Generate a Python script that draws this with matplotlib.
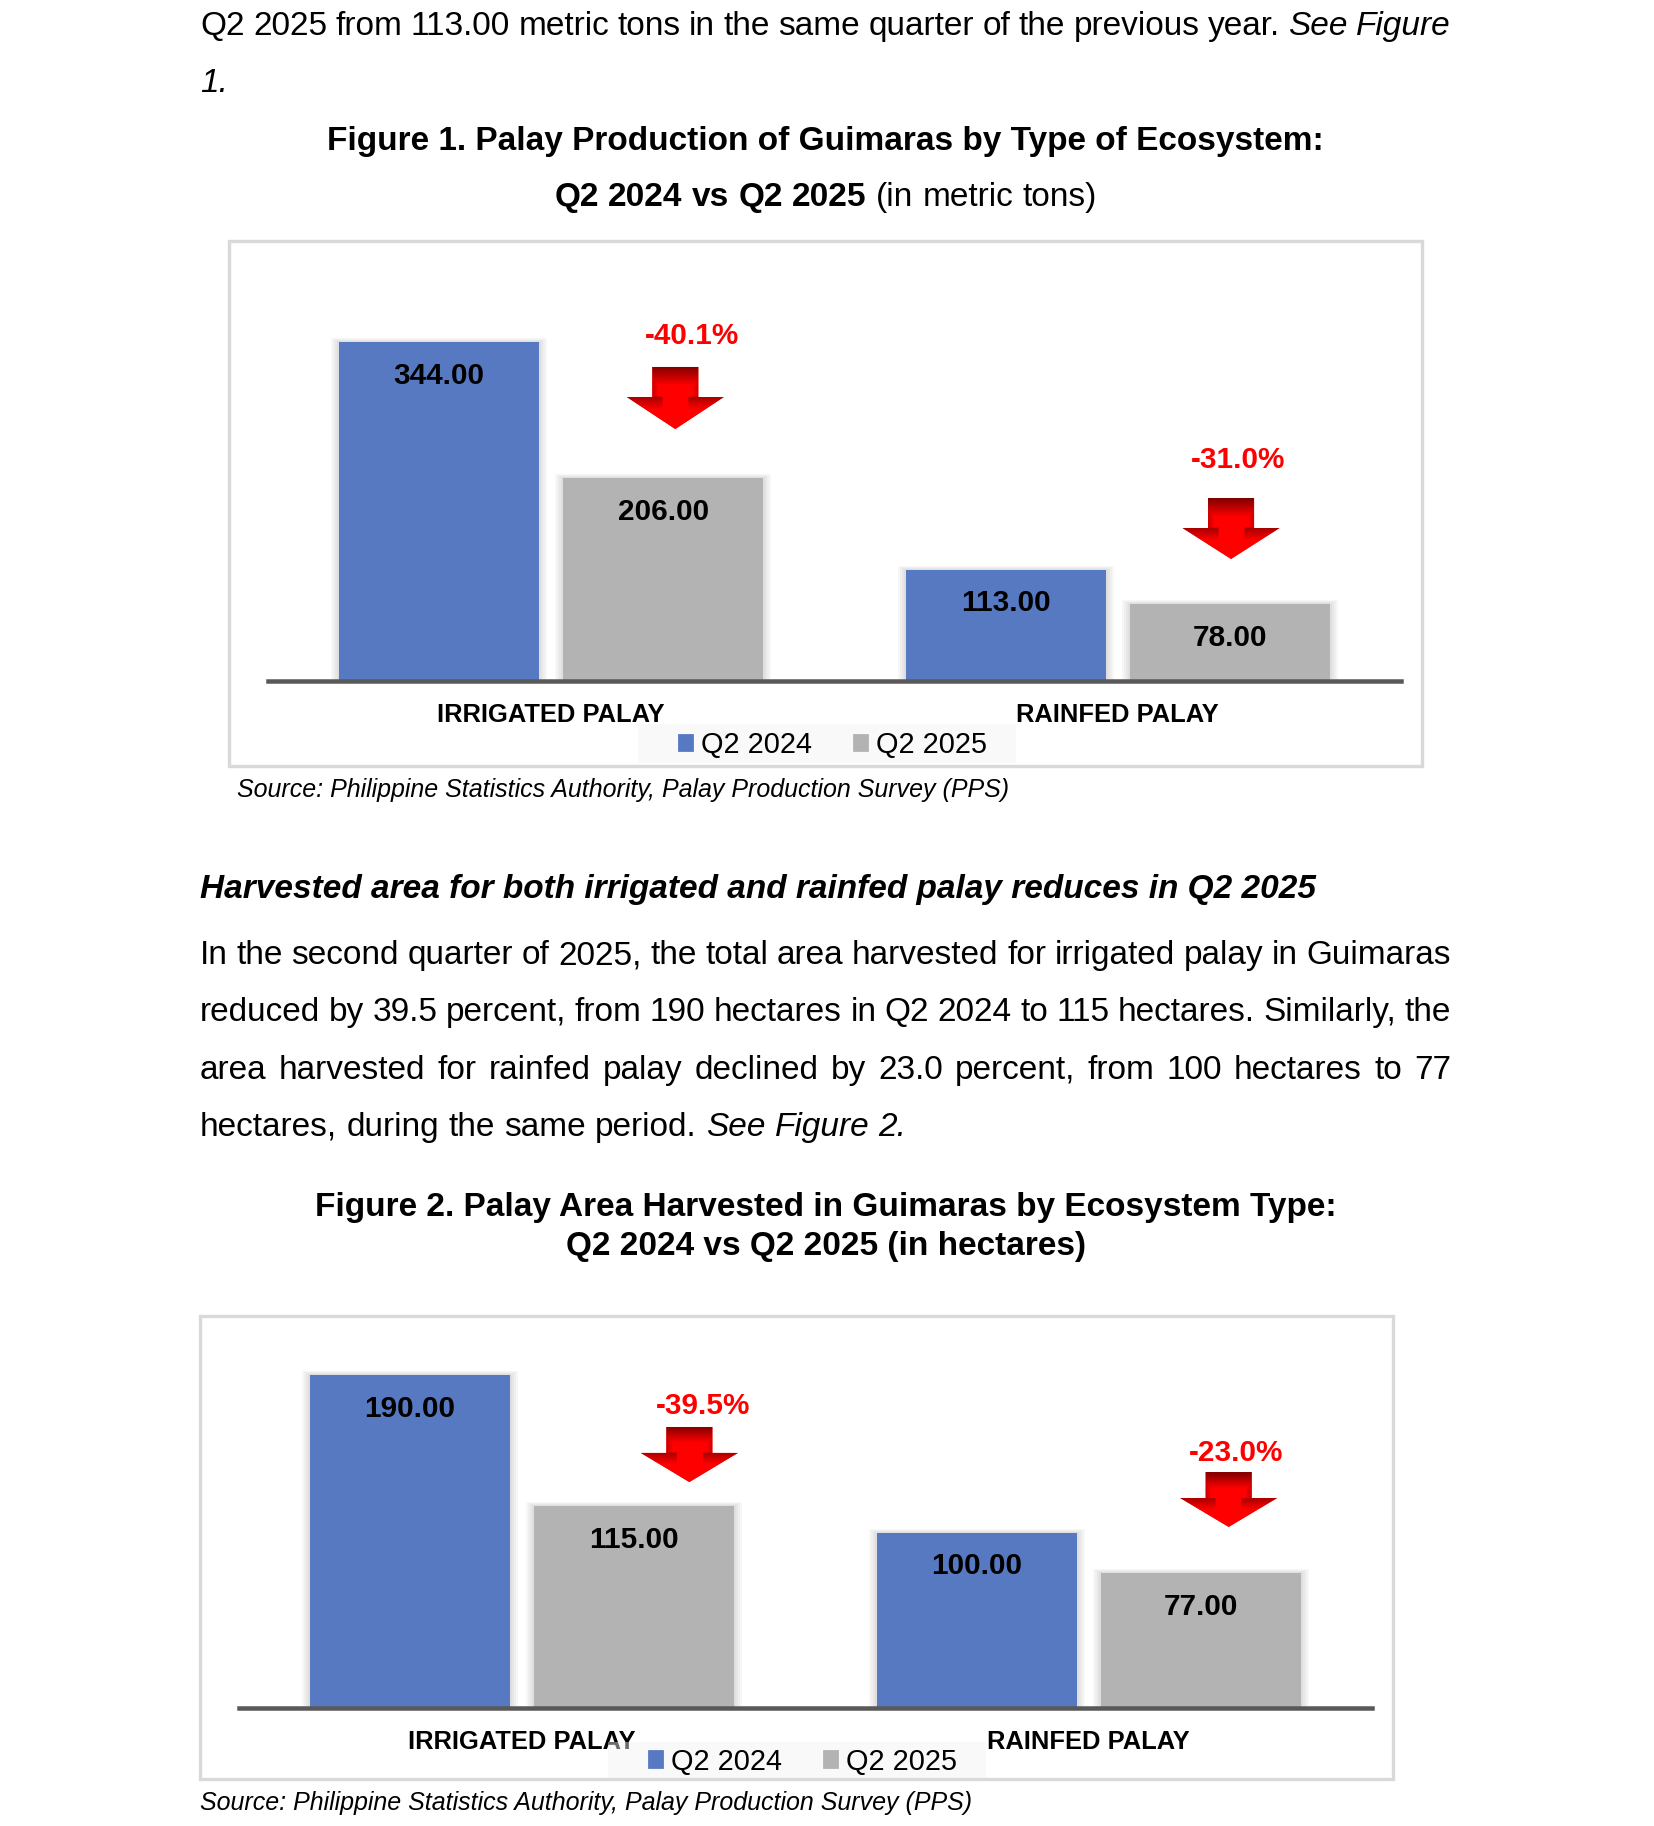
import numpy as np
import matplotlib
matplotlib.use("Agg")
import matplotlib.pyplot as plt
from matplotlib.patches import Rectangle, Polygon, Patch

plt.rcParams['font.family'] = ['Liberation Sans', 'DejaVu Sans']

# page size in pixels, drawn at 200 dpi so font sizes match the document
W, H = 1654, 1826
DPI = 200

# chart data
categories = ["IRRIGATED PALAY", "RAINFED PALAY"]
series_names = ["Q2 2024", "Q2 2025"]
production_2024 = [344.00, 113.00]
production_2025 = [206.00, 78.00]
area_2024 = [190.00, 100.00]
area_2025 = [115.00, 77.00]

BLUE = "#5679C1"
GRAY = "#B3B3B3"
RED = "#FF0000"
AXIS = "#595959"

fig = plt.figure(figsize=(W / DPI, H / DPI), dpi=DPI)


def fx(x):
    return x / W


def fy(y):
    return 1 - y / H


def cap_px(size):
    return size * DPI / 72 * 0.716


def put(x, y, s, size=12, ha='left', **kw):
    # y is the baseline in page pixels
    return fig.text(fx(x), fy(y), s, fontsize=size, ha=ha, va='baseline', **kw)


def line_runs(runs, x0, y, size=12, x1=None, center=None):
    words = []
    for txt, style in runs:
        for w in txt.split():
            words.append(put(x0, y, w, size, **style))
    r = fig.canvas.get_renderer()
    widths = [t.get_window_extent(r).width for t in words]
    if x1 is not None:
        gap = (x1 - x0 - sum(widths)) / (len(words) - 1)
    else:
        gap = size * DPI / 72 * 0.278
    if center is not None:
        total = sum(widths) + gap * (len(words) - 1)
        x0 = center - total / 2
    x = x0
    for t, w in zip(words, widths):
        t.set_x(fx(x))
        x += w + gap


N = {}
I = {'style': 'italic'}
B = {'weight': 'bold'}
BI = {'weight': 'bold', 'style': 'italic'}
LEFT, RIGHT, MID = 200, 1451, 825.5

# text above figure 1
line_runs([("Q2 2025 from 113.00 metric tons in the same quarter of the previous year.", N),
           ("See Figure", I)], LEFT, 35, x1=RIGHT)
put(LEFT, 92, "1.", style='italic')
put(MID, 150, "Figure 1. Palay Production of Guimaras by Type of Ecosystem:", ha='center', weight='bold')
line_runs([("Q2 2024 vs Q2 2025", B), ("(in metric tons)", N)], LEFT, 206, center=MID)

# text between the figures
put(LEFT, 898, "Harvested area for both irrigated and rainfed palay reduces in Q2 2025", **BI)
para = ["In the second quarter of 2025, the total area harvested for irrigated palay in Guimaras",
        "reduced by 39.5 percent, from 190 hectares in Q2 2024 to 115 hectares. Similarly, the",
        "area harvested for rainfed palay declined by 23.0 percent, from 100 hectares to 77"]
for i, s in enumerate(para):
    line_runs([(s, N)], LEFT, 964 + 57.3 * i, x1=RIGHT)
line_runs([("hectares, during the same period.", N), ("See Figure 2.", I)], LEFT, 964 + 57.3 * 3)

put(MID, 1216, "Figure 2. Palay Area Harvested in Guimaras by Ecosystem Type:", ha='center', weight='bold')
put(MID, 1255, "Q2 2024 vs Q2 2025 (in hectares)", ha='center', weight='bold')

SRC = "Source: Philippine Statistics Authority, Palay Production Survey (PPS)"
put(237, 797, SRC, size=9, style='italic')
put(200, 1810, SRC, size=9, style='italic')


def draw_arrow(ax, xc, top, head, tip, ppx):
    sw = 23 * ppx
    hw = 48.5 * ppx
    pts = [(xc - sw, top), (xc + sw, top), (xc + sw, head), (xc + hw, head),
           (xc, tip), (xc - hw, head), (xc - sw, head)]
    poly = Polygon(pts, closed=True, facecolor=RED, edgecolor='none', zorder=5)
    ax.add_patch(poly)
    ny, nx = 80, 60
    yy = np.linspace(top, tip, ny)[:, None] * np.ones((1, nx))
    xx = np.ones((ny, 1)) * np.linspace(xc - hw, xc + hw, nx)[None, :]
    d = (top - yy) / (top - head)
    shade = 0.5 * np.clip(1 - d * 1.6, 0, 1)
    inhead = yy < head
    bevel = 0.35 * np.clip(1 - (head - yy) / (0.4 * (head - tip)), 0, 1)
    shade = np.where(inhead, bevel * (np.abs(xx - xc) > sw * 0.6), shade)
    side = np.clip(1 - (sw - np.abs(xx - xc)) / (sw * 0.25), 0, 1) * 0.2 * (~inhead)
    shade = np.maximum(shade, side)
    img = np.zeros((ny, nx, 3))
    img[..., 0] = 1 - shade
    im = ax.imshow(img, extent=[xc - hw, xc + hw, tip, top], origin='upper',
                   aspect='auto', zorder=6, interpolation='bilinear')
    im.set_clip_path(poly)


def draw_chart(box, axbox, v24, v25, ymax, arrows, legend_box):
    bx0, by0, bx1, by1 = box
    fig.add_artist(Rectangle((fx(bx0), fy(by1)), (bx1 - bx0) / W, (by1 - by0) / H,
                             transform=fig.transFigure, fill=False,
                             edgecolor='#D9D9D9', lw=1.2, zorder=0))
    ax0, ay0, ax1, ay1 = axbox
    ax = fig.add_axes([fx(ax0), fy(ay1), (ax1 - ax0) / W, (ay1 - ay0) / H])
    ax.set_xlim(-0.5, 1.5)
    ax.set_ylim(0, ymax)
    ppx = 2.0 / (ax1 - ax0)            # data units per pixel, x
    ppy = ymax / (ay1 - ay0)           # data units per pixel, y
    x = np.arange(len(categories))
    off, width = 0.198, 0.353
    bars = []
    for vals, sign, col in [(v24, -1, BLUE), (v25, 1, GRAY)]:
        bars += list(ax.bar(x + sign * off, vals, width, color=col, zorder=3))
    # soft shadow round the bars
    for b in bars:
        for k in range(1, 5):
            ax.add_patch(Rectangle((b.get_x() - 2 * k * ppx, 0), b.get_width() + 4 * k * ppx,
                                   b.get_height() + k * ppy, color='black', alpha=0.03,
                                   lw=0, zorder=2))
        v = b.get_height()
        ax.annotate(f"{v:.2f}", (b.get_x() + b.get_width() / 2, v),
                    xytext=(0, -(31 + cap_px(10.7) / 2) * 72 / DPI), textcoords='offset points',
                    ha='center', va='baseline', fontsize=10.7, fontweight='bold', zorder=7)
    ax.axhline(0, color=AXIS, lw=4.5 * 72 / DPI, clip_on=False, zorder=4)
    for (xc, top, head, tip, lx, ly), a, b in zip(arrows, v24, v25):
        draw_arrow(ax, xc, top, head, tip, ppx)
        ax.annotate(f"{(b - a) / a * 100:.1f}%", (lx, ly),
                    xytext=(0, -cap_px(10.7) / 2 * 72 / DPI), textcoords='offset points',
                    ha='center', va='baseline', fontsize=10.7, fontweight='bold', color=RED)
    ax.set_xlim(-0.5, 1.5)
    ax.set_ylim(0, ymax)
    ax.set_aspect('auto')
    ax.set_xticks(x, categories, fontsize=9.2, fontweight='bold')
    ax.tick_params(axis='x', length=0, pad=7.8)
    ax.set_yticks([])
    for s in ax.spines.values():
        s.set_visible(False)
    ax.patch.set_alpha(0)
    # legend with its faint, see-through background panel
    lx0, ly0, lx1, ly1 = legend_box
    fig.add_artist(Rectangle((fx(lx0), fy(ly1)), (lx1 - lx0) / W, (ly1 - ly0) / H,
                             transform=fig.transFigure, facecolor='#F2F2F2', alpha=0.45,
                             edgecolor='none', zorder=1))
    handles = [Patch(color=BLUE), Patch(color=GRAY)]
    fig.legend(handles, series_names, loc='center',
               bbox_to_anchor=(fx((lx0 + lx1) / 2 + 6), fy((ly0 + ly1) / 2 + 1.5)), ncol=2,
               fontsize=10.4, frameon=False, handlelength=0.45, handleheight=0.45,
               handletextpad=0.3, columnspacing=1.45, borderpad=0.2, borderaxespad=0)
    return ax


# arrow: x, shaft top, head start, tip, label x, label y (data units)
arrows1 = [(0.219, 318.8, 288.3, 255.8, 0.249, 353.0),
           (1.200, 185.8, 155.3, 123.9, 1.213, 227.4)]
arrows2 = [(0.295, 160.3, 145.5, 128.9, 0.3195, 174.0),
           (1.247, 134.6, 119.8, 103.3, 1.260, 147.2)]

draw_chart((229, 241, 1422, 766), (268, 287, 1401, 681),
           production_2024, production_2025, 400, arrows1, (638, 724, 1016, 763))
draw_chart((200, 1316, 1393, 1779), (239, 1357.4, 1372, 1708),
           area_2024, area_2025, 200, arrows2, (608, 1742, 986, 1778))

fig.savefig("out.png", dpi=DPI, facecolor='white')
